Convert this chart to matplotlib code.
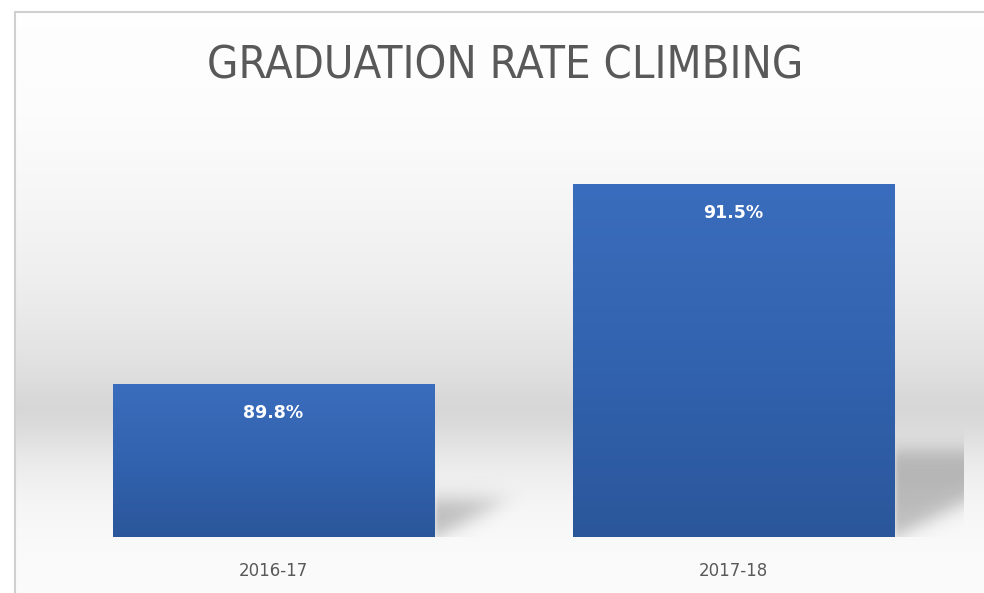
import numpy as np
import matplotlib.pyplot as plt
from matplotlib.lines import Line2D
from matplotlib.colors import LinearSegmentedColormap

# chart data
categories = ["2016-17", "2017-18"]
rates = [89.8, 91.5]
rate_labels = ["89.8%", "91.5%"]
title = "GRADUATION RATE CLIMBING"

W, H = 984, 593
y_min, y_max = 88.5, 92.0

fig = plt.figure(figsize=(W / 100, H / 100), dpi=100)
fig.patch.set_facecolor("white")

# gray gradient backdrop behind the whole chart area (Excel style)
bg = fig.add_axes([16 / W, 0, 1 - 16 / W, 1 - 13 / H])
ys = np.arange(13 - 60, H + 60)
stop_y = [13, 110, 200, 280, 340, 385, 408, 430, 460, 500, 540, 593]
stop_v = [0.997, 0.99, 0.965, 0.935, 0.9, 0.865, 0.835, 0.865, 0.92, 0.96, 0.978, 0.985]
g = np.interp(ys, stop_y, stop_v)
k = np.exp(-0.5 * (np.arange(-30, 31) / 10.0) ** 2)
g = np.convolve(g, k / k.sum(), mode="same")[60:-60]
bg.imshow(np.repeat(g[:, None], 3, axis=1)[:, None, :], aspect="auto",
          extent=[0, 1, 0, 1], interpolation="bilinear")
bg.axis("off")

# thin frame on top and left
fig.add_artist(Line2D([15 / W, 15 / W], [0, 1 - 12 / H], transform=fig.transFigure,
                      color="#d0d0d0", lw=1.5))
fig.add_artist(Line2D([15 / W, 1], [1 - 12 / H, 1 - 12 / H], transform=fig.transFigure,
                      color="#d0d0d0", lw=1.5))

ax = fig.add_axes([43.5 / W, 56 / H, 920 / W, 412 / H])
ax.patch.set_alpha(0)
x = np.arange(len(categories))
bars = ax.bar(x, np.array(rates) - y_min, bottom=y_min, width=0.7,
              color="#3366b3", zorder=3)

# vertical gradient inside each bar
bar_cmap = LinearSegmentedColormap.from_list("bar", ["#2b569b", "#3263af", "#3a6dbd"])
grad = np.linspace(0, 1, 256)[:, None]
for b in bars:
    im = ax.imshow(grad, cmap=bar_cmap, origin="lower", aspect="auto",
                   extent=[b.get_x(), b.get_x() + b.get_width(), b.get_y(), b.get_y() + b.get_height()],
                   zorder=3.5, interpolation="bilinear")
    im.set_clip_path(b)

# soft cast shadows to the right of each bar
px_x = 920 / 2.0
px_y = 412 / (y_max - y_min)
gx, gy = np.meshgrid(np.arange(920) + 0.5, np.arange(412) + 0.5)
alpha = np.zeros_like(gx)
sig = lambda d, s: 1 / (1 + np.exp(-d / s))
for b in bars:
    xr = (b.get_x() + b.get_width() + 0.5) * px_x
    h = b.get_height() * px_y
    top = 0.245 * h
    right = xr + 0.45 * h
    edge = (gx - xr) * 0.5
    a = sig(gx - xr, 1.5) * sig(top - gy, 6) * sig(right - gx, 12) * sig(gy - edge, 6)
    alpha = np.maximum(alpha, a)
shadow = np.zeros((412, 920, 4))
shadow[..., 3] = alpha * 0.24
ax.imshow(shadow, origin="lower", aspect="auto", extent=[-0.5, 1.5, y_min, y_max],
          zorder=2, interpolation="bilinear")

for xi, r, lab in zip(x, rates, rate_labels):
    ax.annotate(lab, xy=(xi, r), xytext=(0, -21), textcoords="offset points",
                ha="center", va="center", color="white", fontsize=12.5, fontweight="bold",
                zorder=5)

ax.set_xlim(-0.5, 1.5)
ax.set_ylim(y_min, y_max)
ax.set_xticks(x, categories)
ax.set_yticks([])
ax.tick_params(axis="x", length=0, pad=18, labelsize=12, labelcolor="#595959")
for s in ax.spines.values():
    s.set_visible(False)

fig.text(505 / W, 1 - 66 / H, title, ha="center", va="center", fontsize=32.5,
         color="#595959", family="DejaVu Sans", fontstretch="condensed")

fig.savefig("out.png", dpi=100)
